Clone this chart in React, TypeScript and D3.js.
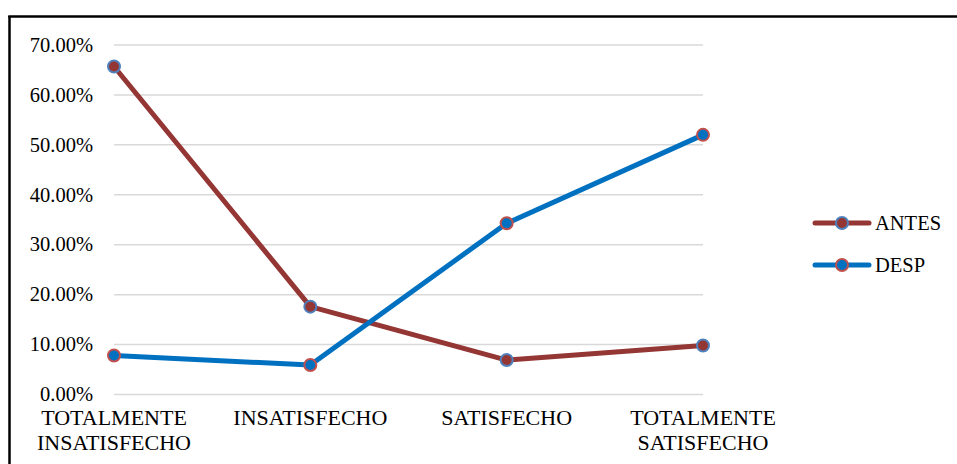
import React from "react";
import * as d3 from "d3";

const categories = [
  ["TOTALMENTE", "INSATISFECHO"],
  ["INSATISFECHO"],
  ["SATISFECHO"],
  ["TOTALMENTE", "SATISFECHO"],
];
const antes = [0.657, 0.176, 0.069, 0.098];
const desp = [0.078, 0.059, 0.343, 0.52];
const yTicks = [0, 0.1, 0.2, 0.3, 0.4, 0.5, 0.6, 0.7];

const RED = "#943634";
const BLUE = "#0070C0";
const FONT = '"Liberation Serif", "Times New Roman", "DejaVu Serif", serif';
const textStyle = { fontFamily: FONT, fontSize: "20.5px" };
const catStyle = { fontFamily: FONT, fontSize: "22px" };

export default function App() {
  const W = 957;
  const H = 464;
  const x = d3.scalePoint<number>().domain(d3.range(categories.length)).range([114, 703]);
  const y = d3.scaleLinear().domain([0, 0.7]).range([394.5, 45]);
  const line = d3
    .line<number>()
    .x((_, i) => x(i)!)
    .y((d) => y(d));
  const fmt = d3.format(".2%");

  const series = [
    { name: "ANTES", values: antes, color: RED, marker: RED, stroke: "#4F81BD" },
    { name: "DESP", values: desp, color: BLUE, marker: BLUE, stroke: "#C0504D" },
  ];

  return (
    <svg
      width={W}
      height={H}
      style={{ position: "absolute", left: 0, top: 0, background: "#fff", fontFamily: FONT }}
    >
      <rect x={0} y={0} width={W} height={H} fill="#fff" />
      {/* frame */}
      <line x1={9.5} y1={16} x2={9.5} y2={H} stroke="#000" strokeWidth={2.5} />
      <line x1={8.25} y1={16.5} x2={W} y2={16.5} stroke="#000" strokeWidth={2.5} />

      {/* gridlines and y labels */}
      {yTicks.map((t) => (
        <g key={t}>
          <line x1={114} x2={703} y1={y(t)} y2={y(t)} stroke="#D9D9D9" strokeWidth={1.5} />
          <text x={93} y={y(t)} dy="0.33em" textAnchor="end" style={textStyle} fill="#000">
            {fmt(t)}
          </text>
        </g>
      ))}

      {/* category labels */}
      {categories.map((lines, i) => (
        <text key={i} x={x(i)!} y={425} textAnchor="middle" style={catStyle} fill="#000">
          {lines.map((l, j) => (
            <tspan key={j} x={x(i)!} dy={j === 0 ? 0 : 24.5}>
              {l}
            </tspan>
          ))}
        </text>
      ))}

      {/* series */}
      {series.map((s) => (
        <g key={s.name}>
          <path d={line(s.values)!} fill="none" stroke={s.color} strokeWidth={5} strokeLinejoin="round" strokeLinecap="round" />
          {s.values.map((v, i) => (
            <circle key={i} cx={x(i)!} cy={y(v)} r={6} fill={s.marker} stroke={s.stroke} strokeWidth={2} />
          ))}
        </g>
      ))}

      {/* legend */}
      {series.map((s, i) => {
        const ly = 223 + i * 42;
        return (
          <g key={s.name}>
            <line x1={815} x2={869} y1={ly} y2={ly} stroke={s.color} strokeWidth={5} strokeLinecap="round" />
            <circle cx={842} cy={ly} r={6} fill={s.marker} stroke={s.stroke} strokeWidth={2} />
            <text x={875} y={ly} dy="0.33em" style={textStyle} fill="#000">
              {s.name}
            </text>
          </g>
        );
      })}
    </svg>
  );
}
